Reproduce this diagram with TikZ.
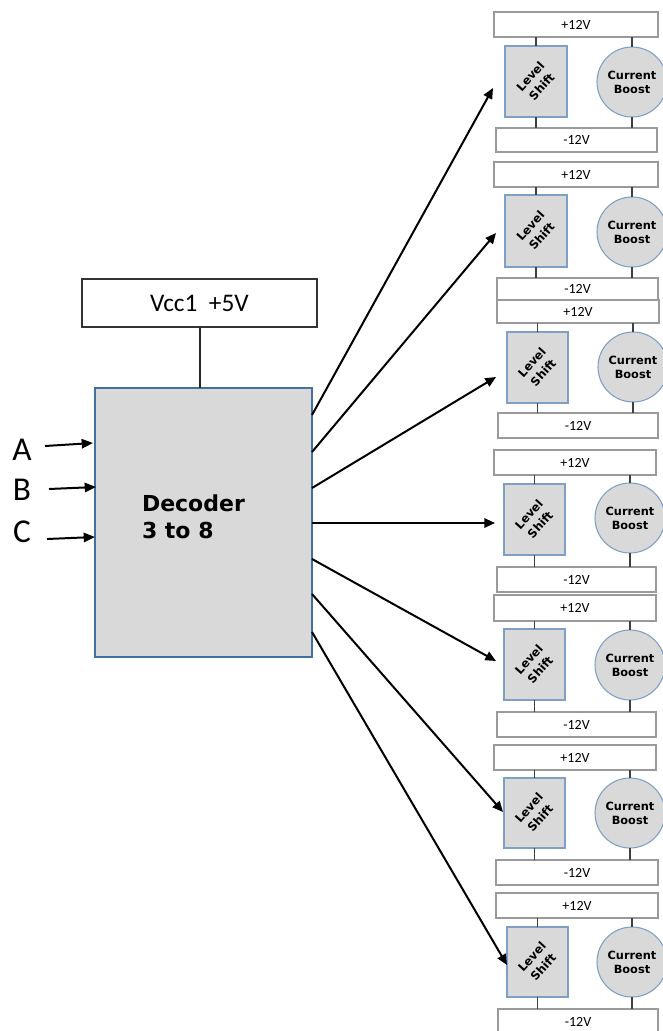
\documentclass[tikz,border=0pt]{standalone}
\usepackage{fontspec}
\setmainfont{Carlito}
\newfontfamily\heavyf{DejaVu Sans}
\usetikzlibrary{arrows.meta,calc}
\definecolor{boxgray}{HTML}{D9D9D9}
\definecolor{decblue}{HTML}{41719C}
\definecolor{lsblue}{HTML}{7FA0C6}
\definecolor{railgray}{HTML}{9A9A9A}
\newcommand\Rect[7]{\node[#6,minimum width={(#4-#2)*0.75pt},minimum height={(#5-#3)*0.75pt}] (#1) at ({(#2+#4)/2},{(#3+#5)/2}) {#7};}
\tikzset{
  every node/.style={inner sep=0pt,outer sep=0pt},
  rail/.style={draw=railgray,line width=0.8pt,fill=white,font=\fontsize{10.5}{12}\selectfont},
  lsbox/.style={draw=lsblue,line width=0.8pt,fill=boxgray},
  boost/.style={circle,draw=lsblue,line width=0.8pt,fill=boxgray,minimum size=52.5pt,align=center,
     font=\heavyf\bfseries\fontsize{8.5}{10.5}\selectfont},
  lslabel/.style={rotate=48,align=center,font=\heavyf\bfseries\fontsize{8.75}{11.5}\selectfont},
  stub/.style={draw=black!75,line width=0.8pt},
  outarrow/.style={-{Triangle[length=8pt,width=7pt]},line width=1.5pt,black},
  inarrow/.style={-{Triangle[length=8.5pt,width=7pt]},line width=1.5pt,black},
}
\begin{document}
\begin{tikzpicture}[x=0.75pt,y=-0.75pt]
\useasboundingbox (0,0) rectangle (663,1031);
\clip (0,0) rectangle (663,1031);
\fill[white] (0,0) rectangle (663,1031);
% power supply and decoder
\Rect{vcc}{82}{279}{317}{327}{draw=black!80,line width=1pt,font=\fontsize{19}{22}\selectfont}{Vcc1\ \ +5V}
\Rect{dec}{95}{388}{312}{657}{draw=decblue,line width=1pt,fill=boxgray}{}
\node[anchor=north west,align=left,font=\heavyf\bfseries\fontsize{16.5}{20}\selectfont] (dectext) at (142,495) {Decoder\\3 to 8};
\draw[line width=1.5pt,black!85] (vcc.south) -- (vcc.south |- dec.north);
% inputs
\node[font=\fontsize{25}{28}\selectfont] (A) at (22,450) {A};
\node[font=\fontsize{25}{28}\selectfont] (B) at (22,490) {B};
\node[font=\fontsize{25}{28}\selectfont] (C) at (22,532) {C};
\coordinate (inA) at (45,446);
\coordinate (inB) at (49,489);
\coordinate (inC) at (47,539);
\draw[inarrow] (inA) -- ($(dec.north west)+(-2,55)$);
\draw[inarrow] (inB) -- ($(dec.north west)+(1,99)$);
\draw[inarrow] (inC) -- ($(dec.north west)+(0,149)$);
% modules
\foreach \i/\ptop/\pbot/\pl/\pr/\ll/\lr/\lt/\lb/\cx/\cy/\mt/\mb/\ml/\mr in {
 1/12/37/494/658/505/567/46/117/632/82/128/152/496/657,
 2/162/187/494/658/505/567/195/267/632/232/278/300/497/658,
 3/300/323/497/659/507/568/332/403/633/367/413/438/498/658,
 4/450/475/494/656/504/565/484/555/630/518/567/592/497/656,
 5/595/621/494/656/504/565/629/700/630/665/712/737/497/656,
 6/745/770/494/656/504/565/778/848/630/813/860/885/496/658,
 7/893/918/496/658/507/568/927/997/632/962/1009/1035/498/658}{
  \Rect{P\i}{\pl}{\ptop}{\pr}{\pbot}{rail}{+12V}
  \Rect{M\i}{\ml}{\mt}{\mr}{\mb}{rail}{-12V}
  \Rect{LS\i}{\ll}{\lt}{\lr}{\lb}{lsbox}{}
  \node[lslabel] (LSt\i) at (LS\i.center) {Level\\Shift};
  \node[boost] (CB\i) at (\cx,\cy) {Current\\Boost};
  \draw[stub] (LS\i.north) -- (LS\i.north |- P\i.south);
  \draw[stub] (LS\i.south) -- (LS\i.south |- M\i.north);
  \draw[stub] (CB\i.north) -- (CB\i.north |- P\i.south);
  \draw[stub] (CB\i.south) -- (CB\i.south |- M\i.north);
}
% outputs
\coordinate (t1) at (493,88);
\coordinate (t2) at (496,233);
\coordinate (t3) at (496,377);
\coordinate (t4) at (495,523);
\coordinate (t5) at (496,661);
\coordinate (t6) at (503,812);
\coordinate (t7) at (507,965);
\draw[outarrow] ($(dec.north east)+(0,27)$) -- (t1);
\draw[outarrow] ($(dec.north east)+(0,64)$) -- (t2);
\draw[outarrow] ($(dec.north east)+(0,100)$) -- (t3);
\draw[outarrow] ($(dec.north east)+(0,135)$) -- (t4);
\draw[outarrow] ($(dec.north east)+(0,171)$) -- (t5);
\draw[outarrow] ($(dec.north east)+(0,206)$) -- (t6);
\draw[outarrow] ($(dec.north east)+(0,244)$) -- (t7);
\end{tikzpicture}
\end{document}
